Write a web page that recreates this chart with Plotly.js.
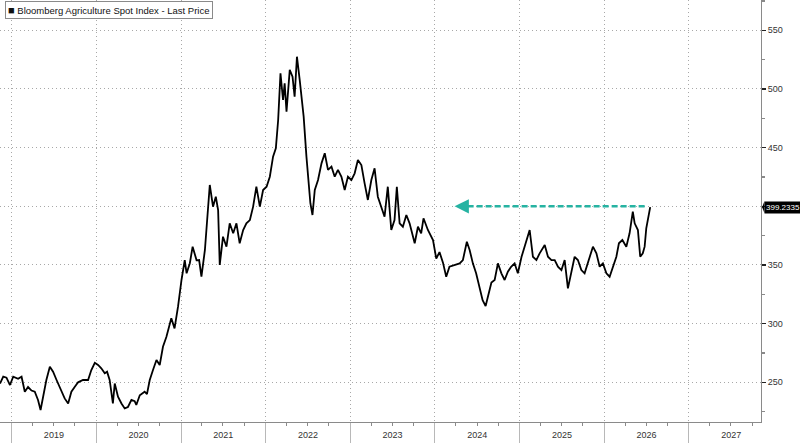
<!DOCTYPE html>
<html>
<head>
<meta charset="utf-8">
<script src="https://cdn.plot.ly/plotly-3.0.1.min.js"></script>
<style>
  html, body { margin: 0; padding: 0; background: #fff; }
  #chart { width: 800px; height: 443px; }
</style>
</head>
<body>
<div id="chart"></div>
<script>
// =========================
// DATA
// =========================
const seriesName = "Bloomberg Agriculture Spot Index - Last Price";

const dates = [
  "2018-11-12", "2018-11-26", "2018-12-10", "2018-12-25",
  "2019-01-08", "2019-01-29", "2019-02-13", "2019-02-27", "2019-03-13", "2019-03-28",
  "2019-04-11", "2019-04-25", "2019-05-06", "2019-05-17", "2019-05-31", "2019-06-15",
  "2019-06-29", "2019-07-14", "2019-07-28", "2019-08-18", "2019-09-02", "2019-09-16",
  "2019-09-30", "2019-10-15", "2019-11-05", "2019-11-27", "2019-12-11", "2019-12-26",
  "2020-01-09", "2020-01-23", "2020-02-07", "2020-02-17", "2020-02-28", "2020-03-13",
  "2020-03-21", "2020-04-04", "2020-04-19", "2020-05-03", "2020-05-17", "2020-06-01",
  "2020-06-15", "2020-06-22", "2020-07-07", "2020-07-28", "2020-08-07", "2020-08-19",
  "2020-09-02", "2020-09-17", "2020-10-01", "2020-10-15", "2020-10-30", "2020-11-13",
  "2020-11-20", "2020-12-04", "2020-12-19",
  "2021-01-03", "2021-01-17", "2021-01-25", "2021-02-08", "2021-02-20", "2021-03-09",
  "2021-03-20", "2021-03-30", "2021-04-14", "2021-04-24", "2021-05-05", "2021-05-19",
  "2021-05-31", "2021-06-10", "2021-06-17", "2021-07-01", "2021-07-16", "2021-07-30",
  "2021-08-14", "2021-08-28", "2021-09-11", "2021-09-26", "2021-10-10", "2021-10-25",
  "2021-11-08", "2021-11-22", "2021-12-07", "2021-12-21",
  "2022-01-05", "2022-01-19", "2022-02-02", "2022-02-14", "2022-02-24", "2022-03-06",
  "2022-03-17", "2022-03-24", "2022-04-01", "2022-04-15", "2022-04-27", "2022-05-06",
  "2022-05-16", "2022-05-28", "2022-06-04", "2022-06-14", "2022-06-26", "2022-07-06",
  "2022-07-13", "2022-07-22", "2022-08-01", "2022-08-15", "2022-08-30", "2022-09-13",
  "2022-09-27", "2022-10-12", "2022-10-26", "2022-11-09", "2022-11-24", "2022-12-08",
  "2022-12-22",
  "2023-01-06", "2023-01-20", "2023-02-03", "2023-02-18", "2023-03-04", "2023-03-18",
  "2023-04-02", "2023-04-16", "2023-04-30", "2023-05-15", "2023-05-29", "2023-06-12",
  "2023-06-27", "2023-07-11", "2023-07-21", "2023-08-02", "2023-08-16", "2023-08-31",
  "2023-09-14", "2023-10-06", "2023-10-20", "2023-11-03", "2023-11-13", "2023-12-02",
  "2023-12-17", "2023-12-24",
  "2024-01-07", "2024-01-21", "2024-02-05", "2024-02-19", "2024-03-04", "2024-03-26",
  "2024-04-17", "2024-05-01", "2024-05-18", "2024-05-30", "2024-06-13", "2024-06-27",
  "2024-07-12", "2024-07-25", "2024-08-07", "2024-08-17", "2024-09-01", "2024-09-15",
  "2024-09-29", "2024-10-14", "2024-10-28", "2024-11-11", "2024-11-25", "2024-12-10",
  "2024-12-24",
  "2025-01-09", "2025-01-30", "2025-02-13", "2025-02-27", "2025-03-14", "2025-03-28",
  "2025-04-19", "2025-05-03", "2025-05-18", "2025-06-01", "2025-06-15", "2025-06-30",
  "2025-07-14", "2025-07-28", "2025-08-12", "2025-08-26", "2025-09-09", "2025-09-24",
  "2025-10-08", "2025-10-27", "2025-11-13", "2025-11-28", "2025-12-12", "2025-12-26",
  "2026-01-10", "2026-01-24", "2026-02-07", "2026-02-22", "2026-03-05", "2026-03-20",
  "2026-04-06", "2026-04-20", "2026-05-04", "2026-05-12", "2026-05-26", "2026-06-05",
  "2026-06-16", "2026-06-24", "2026-07-01", "2026-07-08", "2026-07-18"
];

const prices = [
  249, 254.8, 254, 247.7,
  254.8, 253, 254.8, 242, 246, 243,
  242, 235, 226.4, 237.7, 252, 263.3,
  259, 252, 246.3, 236.3, 232, 242,
  246, 250, 252, 252, 260.5, 266.7,
  264.8, 262, 257.7, 259, 252, 232,
  249, 237.7, 232, 227.8, 229, 235,
  234, 230.7, 239, 242, 240, 252,
  260.5, 269, 264.8, 280.3, 288.9, 300.3,
  304.6, 296, 314.5,
  337.2, 354.2, 342.9, 351.5, 365.6, 354,
  354.2, 340, 362.8, 394, 418.2, 399.7,
  408.2, 396.8, 350, 374.1, 365.6, 385.5,
  377, 385.5, 368.5, 379.8, 385.5, 388.3,
  399.7, 416.7, 399.7, 413.9,
  416.7, 425.2, 442.3, 449.4, 473.5, 513.4,
  490.6, 504.8, 480.6, 516.2, 510.5, 493.4,
  527.5, 507.6, 496.3, 476.4, 442.3, 422.4,
  402.6, 392.6, 413.9, 422.4, 436.6, 445.2,
  431, 433.8, 425.2, 431, 425.2, 413.9,
  425.2,
  422.4, 428.1, 439.5, 435.2, 419.6, 405.4,
  422.4, 432.4, 408.2, 399.7, 391.1, 416.7,
  379.8, 388.3, 416.7, 385.5, 382.6, 392.6,
  385.5, 368.5, 382.6, 377, 389.8, 379.8,
  374.1, 371.3,
  355.5, 361, 352, 340, 348.5, 350,
  351.4, 354.2, 369.8, 362.8, 351.4, 342.9,
  330, 320, 315, 324, 335, 337.2,
  351.4, 342.9, 337.2, 344.3, 348.5, 351.4,
  342.9,
  357, 371.3, 379.8, 357, 354.2, 359.9,
  367, 357, 354.2, 354.2, 348.5, 345.7,
  354.2, 330.1, 345.7, 357, 354.2, 345.7,
  342.9, 354.2, 365.6, 359.9, 348.5, 351.4,
  342.9, 340, 348.5, 357, 368.5, 371.3,
  365.6, 377, 395.4, 385.5, 379.8, 357,
  359.9, 365.6, 381.2, 388.3, 399.2335
];

const lastPrice = prices[prices.length - 1];
const lastLabel = "399.2335";

// right axis ticks (the 400 label sits under the price tag)
const yTickVals = [250, 300, 350, 400, 450, 500, 550];
const yTickText = ["250", "300", "350", "", "450", "500", "550"];

// level the teal arrow points back to, and where it runs
const arrowLevel = 400;
const arrowFrom = "2026-06-24";
const arrowTo = "2024-03-26";
const arrowHeadTail = "2024-04-26";

const xRange = ["2018-11-12", "2027-11-08"];
const yRange = [216.2, 575.8];

const teal = "#26b3a2";
const gridColor = "#a8a8a8";
const fontFam = "Liberation Sans, Arial, sans-serif";

// =========================
// TRACE
// =========================
const trace = {
    x: dates,
    y: prices,
    type: "scatter",
    mode: "lines",
    name: seriesName,
    line: { color: "#000000", width: 1.8 },
    hoverinfo: "x+y",
    showlegend: false
};

// =========================
// LAYOUT
// =========================
const layout = {
    width: 800,
    height: 443,
    margin: { l: 0, r: 39, t: 0, b: 21, pad: 0 },
    paper_bgcolor: "#ffffff",
    plot_bgcolor: "#ffffff",
    font: { family: fontFam, size: 9, color: "#333" },
    showlegend: false,
    xaxis: {
        type: "date",
        range: xRange,
        dtick: "M12",
        tick0: "2019-01-01",
        tickformat: "%Y",
        ticklabelmode: "period",
        ticks: "outside",
        ticklen: 21,
        tickwidth: 1,
        tickcolor: "#b8b8b8",
        ticklabelstandoff: -17,
        tickfont: { family: fontFam, size: 9, color: "#333" },
        showgrid: true,
        gridcolor: gridColor,
        griddash: "1px,3px",
        gridwidth: 1,
        showline: true,
        linecolor: "#8a8a8a",
        linewidth: 1,
        zeroline: false,
        minor: {
            dtick: "M3",
            tick0: "2019-01-01",
            ticks: "outside",
            ticklen: 3,
            tickcolor: "#8a8a8a",
            showgrid: false
        },
        fixedrange: true
    },
    yaxis: {
        side: "right",
        range: yRange,
        tickmode: "array",
        tickvals: yTickVals,
        ticktext: yTickText,
        ticks: "outside",
        ticklen: 4,
        tickwidth: 1.5,
        tickcolor: "#222",
        tickfont: { family: fontFam, size: 9, color: "#333" },
        showgrid: true,
        gridcolor: gridColor,
        griddash: "1px,3px",
        gridwidth: 1,
        showline: true,
        linecolor: "#8a8a8a",
        linewidth: 1,
        zeroline: false,
        minor: {
            dtick: 25,
            tick0: 225,
            ticks: "outside",
            ticklen: 3,
            tickcolor: "#8a8a8a",
            showgrid: false
        },
        fixedrange: true
    },
    shapes: [
        // dashed teal line of the arrow
        {
            type: "line",
            xref: "x", yref: "y",
            x0: arrowFrom, x1: arrowHeadTail,
            y0: arrowLevel, y1: arrowLevel,
            line: { color: teal, width: 2.6, dash: "6px,3px" }
        },
        // pointer of the last price tag
        {
            type: "path",
            xref: "paper", yref: "y",
            path: "M 1.0015 " + lastPrice + " L 1.0045 " + (lastPrice + 5) + " L 1.0045 " + (lastPrice - 5) + " Z",
            fillcolor: "#000",
            line: { width: 0 }
        }
    ],
    annotations: [
        // legend box
        {
            xref: "paper", yref: "paper",
            x: 0.006, y: 0.997,
            xanchor: "left", yanchor: "top",
            showarrow: false,
            text: "<span style='font-size:11px'>■</span> " + seriesName,
            font: { family: fontFam, size: 9.5, color: "#111" },
            bgcolor: "#ffffff",
            bordercolor: "#8a8a8a",
            borderwidth: 1,
            borderpad: 2
        },
        // teal arrow head
        {
            xref: "x", yref: "y",
            axref: "x", ayref: "y",
            x: arrowTo, y: arrowLevel,
            ax: arrowHeadTail, ay: arrowLevel,
            text: "",
            showarrow: true,
            arrowhead: 2,
            arrowsize: 1.1,
            arrowwidth: 2.6,
            arrowcolor: teal
        },
        // last price tag
        {
            xref: "paper", yref: "y",
            x: 1, y: lastPrice,
            xanchor: "left", yanchor: "middle",
            xshift: 3,
            showarrow: false,
            text: lastLabel,
            font: { family: fontFam, size: 8, color: "#ffffff" },
            bgcolor: "#000000",
            borderpad: 1
        }
    ]
};

Plotly.newPlot("chart", [trace], layout, { displayModeBar: false, staticPlot: true });
</script>
</body>
</html>
